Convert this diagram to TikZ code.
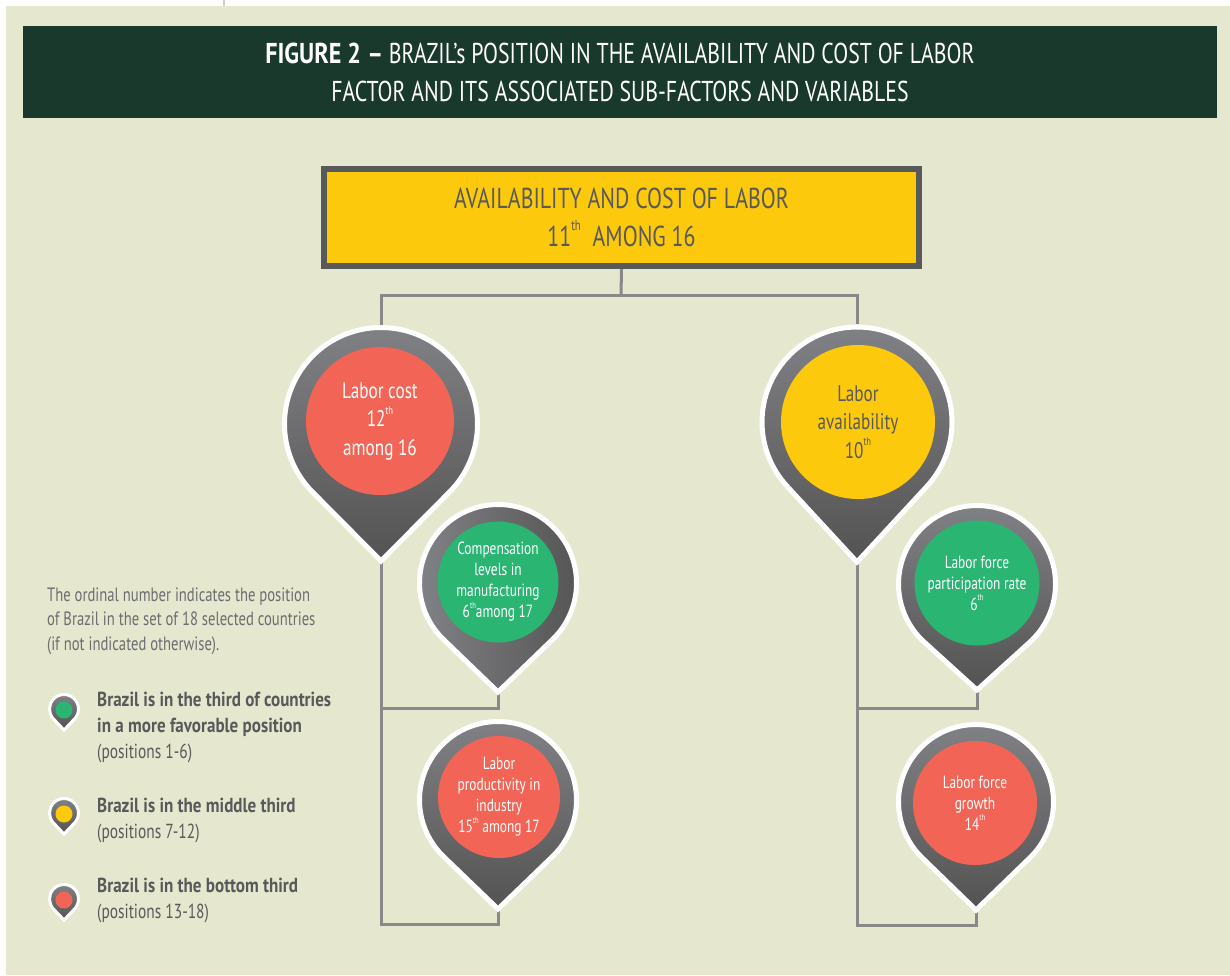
\documentclass[tikz,border=0pt]{standalone}
\usepackage{fontspec}
\usepackage{graphicx}
\setmainfont{PT Sans}[FakeStretch=0.76, BoldFeatures={FakeStretch=0.84}]
\usetikzlibrary{calc}

\definecolor{beige}{RGB}{229,232,206}
\definecolor{bannergreen}{RGB}{26,57,45}
\definecolor{labyellow}{RGB}{253,201,12}
\definecolor{coral}{RGB}{242,101,86}
\definecolor{emerald}{RGB}{42,181,115}
\definecolor{textgray}{RGB}{88,89,91}
\definecolor{notegray}{RGB}{108,109,112}
\definecolor{linegray}{RGB}{137,137,137}
\definecolor{pintop}{RGB}{130,131,135}
\definecolor{pinbot}{RGB}{84,83,83}
\definecolor{edgegray}{RGB}{205,205,205}

% small raised ordinal suffix
\newcommand\ordth{\raisebox{0.55em}{\scalebox{0.5}{th}}}

% pin marker: centre (#1,#2), radius #3, tip distance #4, style #5
\newcommand\pinmark[5]{%
  \path[#5] (#1,#2) ++({90-acos(#3/#4)}:#3)
    arc[start angle={90-acos(#3/#4)}, end angle={-270+acos(#3/#4)}, radius=#3]
    -- (#1,#2+#4) -- cycle;}

\begin{document}
\begin{tikzpicture}[x=1pt,y=-1pt,
  conn/.style={draw=linegray, line width=3pt},
  pinv/.style={draw=white, line width=5pt, line join=miter, top color=pintop, bottom color=pinbot},
  pinh/.style={draw=white, line width=5pt, line join=miter, left color=pintop, right color=pinbot},
  pinsmall/.style={draw=white, line width=3pt, line join=miter, top color=pintop, bottom color=pinbot},
  disc/.style={circle, inner sep=0pt, align=center, text=white},
  bigdisc/.style={disc, font=\fontsize{22.6}{28.5}\selectfont},
  smalldisc/.style={disc, font=\fontsize{17.6}{21}\selectfont},
  dot/.style={circle, inner sep=0pt, minimum size=17pt},
  note/.style={anchor=west, align=left, inner sep=0pt, text=notegray, font=\fontsize{19.3}{24.5}\selectfont},
  key/.style={anchor=west, align=left, inner sep=0pt, text=textgray, font=\fontsize{20.3}{26}\selectfont},
]
\useasboundingbox (0,0) rectangle (1230,975);
\fill[white] (0,0) rectangle (1230,975);
\fill[beige] (6,6) rectangle (1230,975);
\draw[edgegray, line width=2pt] (224,0) -- (224,6);

% title banner
\node[fill=bannergreen, minimum width=1194pt, minimum height=92pt, inner sep=0pt,
      text=white, align=center, font=\fontsize{28.7}{38}\selectfont] (banner) at (620,72)
  {\textbf{FIGURE 2 –} BRAZIL's POSITION IN THE AVAILABILITY AND COST OF LABOR\\
   FACTOR AND ITS ASSOCIATED SUB-FACTORS AND VARIABLES};

% main factor box
\node[draw=textgray, line width=6pt, fill=labyellow, minimum width=595pt, minimum height=97pt,
      inner sep=0pt, align=center, text=textgray, font=\fontsize{28.8}{38}\selectfont] (box) at (621.5,217.5)
  {AVAILABILITY AND COST OF LABOR\\11\ordth\ \ AMONG 16};

% connector anchor points
\coordinate (split) at (621,295);
\coordinate (costtop) at (381,325);
\coordinate (availtop) at (857,324);
\coordinate (costtip) at (381,561);
\coordinate (availtip) at (857,562);
\coordinate (comptip) at (498,692);
\coordinate (prodtip) at (498,909);
\coordinate (parttip) at (977,690);
\coordinate (growtip) at (976,910);
\coordinate (lmid) at (381,708);
\coordinate (lbot) at (381,924);
\coordinate (rmid) at (857,708);
\coordinate (rbot) at (857,925);

% tree connectors
\draw[conn] (box.south) -- (split);
\draw[conn] (costtop) |- (split) -| (availtop);
\draw[conn] (costtip) -- (lbot) -| (prodtip);
\draw[conn] (lmid) -| (comptip);
\draw[conn] (availtip) -- (rbot) -| (growtip);
\draw[conn] (rmid) -| (parttip);

% sub-factor pins
\pinmark{381}{424}{96.5}{137}{pinv}
\pinmark{857}{422}{95}{140}{pinv}
\node[bigdisc, fill=coral, minimum size=148pt] (cost) at (380,421) {Labor cost\\12\ordth\\among 16};
\node[bigdisc, fill=labyellow, text=textgray, minimum size=154pt] (avail) at (858,422) {Labor\\availability\\10\ordth};

% variable pins
\pinmark{498}{583}{78.5}{109}{pinh}
\pinmark{498}{800}{78.5}{109}{pinv}
\pinmark{977}{584}{78.5}{106}{pinv}
\pinmark{976}{802}{77.5}{108}{pinv}
\node[smalldisc, fill=emerald, minimum size=121pt] (comp) at (498,582)
  {Compensation\\levels in\\manufacturing\\6\ordth among 17};
\node[smalldisc, fill=coral, minimum size=122pt] (prod) at (499,797)
  {Labor\\productivity in\\industry\\15\ordth\ among 17};
\node[smalldisc, fill=emerald, minimum size=125pt] (part) at (977,583)
  {Labor force\\participation rate\\6\ordth};
\node[smalldisc, fill=coral, minimum size=124pt] (grow) at (975,803)
  {Labor force\\growth\\14\ordth};

% legend
\node[note] (explain) at (47,621)
  {The ordinal number indicates the position\\
   of Brazil in the set of 18 selected countries\\
   (if not indicated otherwise).};

\pinmark{64}{709}{14.5}{21}{pinsmall}
\pinmark{64}{813}{14.5}{21}{pinsmall}
\pinmark{64}{899}{14.5}{21}{pinsmall}
\node[dot, fill=emerald] (kgreen) at (64,710) {};
\node[dot, fill=labyellow] (kyellow) at (64,814) {};
\node[dot, fill=coral] (kred) at (64,900) {};

\node[key] (keygreen) at (97,728)
  {\textbf{Brazil is in the third of countries}\\
   \textbf{in a more favorable position}\\
   (positions 1-6)};
\node[key] (keyyellow) at (97,820)
  {\textbf{Brazil is in the middle third}\\
   (positions 7-12)};
\node[key] (keyred) at (97,900.5)
  {\textbf{Brazil is in the bottom third}\\
   (positions 13-18)};
\end{tikzpicture}
\end{document}
